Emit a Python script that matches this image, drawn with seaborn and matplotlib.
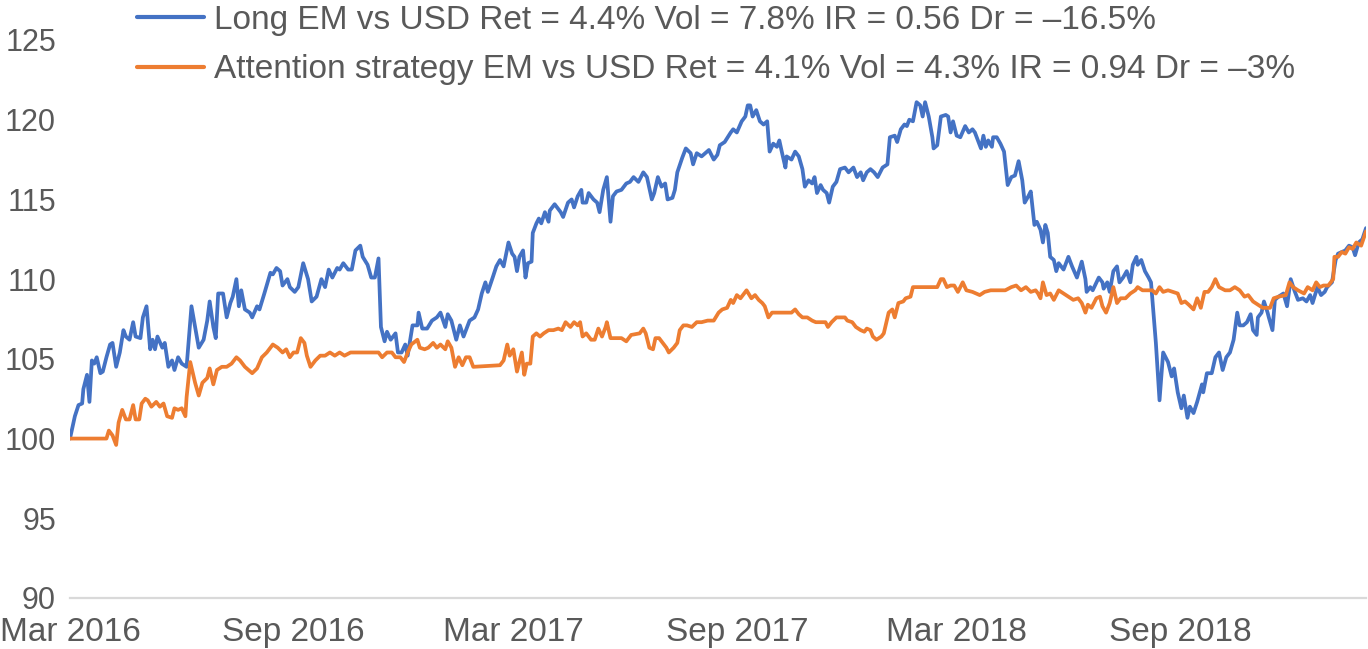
import numpy as np
import pandas as pd
import matplotlib
matplotlib.use("Agg")
import matplotlib.pyplot as plt
import seaborn as sns

# ---------------- data ----------------
start_date = "2016-03-01"

blue_label = "Long EM vs USD Ret = 4.4% Vol = 7.8% IR = 0.56 Dr = \u201316.5%"
orange_label = "Attention strategy EM vs USD Ret = 4.1% Vol = 4.3% IR = 0.94 Dr = \u20133%"

# days after start_date
blue_days = [0,4,7,10,11,14,16,18,20,22,25,27,30,33,35,38,41,44,46,49,52,54,58,60,63,66,68,70,72,76,78,81,84,86,89,92,96,100,103,106,110,113,115,118,120,122,126,129,132,134,137,139,141,144,148,150,154,156,160,165,167,170,173,175,179,181,185,188,192,196,199,203,207,210,213,216,220,222,225,229,232,235,239,241,245,248,251,254,256,259,261,264,268,270,273,276,278,282,286,287,290,294,298,302,305,309,311,314,318,321,324,327,329,333,336,339,342,344,348,351,354,357,361,364,366,368,370,373,375,377,380,381,384,386,388,391,394,395,399,404,406,410,413,415,418,421,422,425,427,431,434,436,439,442,445,447,450,454,458,461,464,468,472,475,479,481,484,487,490,492,496,498,500,504,507,511,513,516,520,523,526,530,533,535,539,544,546,549,553,556,558,560,562,565,568,571,574,576,579,582,584,586,589,590,594,597,600,603,605,608,611,613,615,618,620,623,625,628,631,634,638,641,645,648,651,653,656,659,662,665,669,673,675,679,681,684,687,689,691,694,697,700,702,704,707,710,711,714,717,721,723,725,727,730,733,737,740,743,745,748,750,752,754,756,759,760,763,766,769,772,775,778,781,784,786,789,791,794,796,799,801,803,805,807,810,812,814,818,822,825,829,833,836,837,840,842,847,850,851,854,856,859,862,864,867,870,873,875,878,879,882,885,888,890,894,897,900,904,907,909,912,915,917,920,922,925,928,932,933,936,940,943,946,949,952,955,958,961,963,966,969,972,974,977,978,981,983,986,987,990,992,995,999,1002,1005,1008,1011,1015,1018,1021,1023,1027,1030,1033,1035,1039,1042,1044,1047,1050,1053,1056,1058,1061,1064,1067]
blue_vals = [100.0,101.4,102.1,102.2,103.1,104.0,102.3,104.9,104.7,105.1,104.1,104.2,105.1,105.9,106.0,104.5,105.4,106.8,106.4,106.2,107.3,106.4,106.3,107.6,108.3,105.6,106.2,105.6,106.4,105.7,106.0,104.5,104.9,104.3,105.1,104.7,104.5,108.3,107.0,105.7,106.2,107.4,108.6,107.0,106.3,109.1,109.1,107.6,108.5,108.9,110.0,108.3,109.3,108.1,107.9,107.6,108.3,108.1,109.1,110.4,110.3,110.7,110.5,109.6,110.0,109.5,109.2,109.5,111.0,110.0,108.6,108.9,110.0,109.5,110.6,110.1,110.7,110.6,111.0,110.6,110.6,111.8,112.1,111.4,110.9,110.1,110.1,111.3,107.0,106.1,106.7,106.2,106.6,105.4,105.4,105.9,105.2,107.1,107.1,107.9,106.9,106.9,107.4,107.6,107.9,107.0,107.8,107.4,106.2,107.1,106.4,107.0,107.4,107.6,108.1,109.1,109.8,109.2,110.1,110.8,111.2,110.8,112.3,111.6,111.4,110.5,111.4,111.8,110.1,111.0,111.1,112.9,113.5,113.8,113.5,114.2,113.6,114.3,114.7,114.2,113.9,114.8,115.0,114.5,115.2,115.6,114.8,114.8,115.4,115.0,114.8,114.2,115.6,116.4,113.6,115.2,115.5,115.6,116.0,116.1,116.4,116.1,116.7,116.4,115.0,115.4,116.4,115.8,116.0,115.0,115.1,115.6,116.7,117.6,118.2,117.9,117.2,117.9,117.7,117.9,118.1,117.5,117.8,118.4,118.6,119.2,119.4,119.2,119.9,120.2,120.9,120.9,120.2,120.6,119.9,119.7,119.9,118.0,118.5,118.3,118.7,118.0,117.0,117.7,117.5,118.0,117.7,116.9,115.8,116.2,116.0,116.4,115.4,115.9,115.6,115.4,114.8,115.8,116.1,116.9,117.0,116.7,117.0,116.4,116.7,116.2,116.7,116.9,116.7,116.4,117.0,117.2,118.9,119.0,118.6,119.4,119.7,119.6,120.0,119.9,121.1,120.9,120.2,121.1,120.2,118.9,118.2,118.4,120.2,120.3,120.2,119.2,119.9,119.0,118.9,119.6,119.2,119.4,119.2,118.6,118.2,119.0,118.3,118.7,118.3,118.9,118.9,118.5,118.0,115.9,116.4,116.5,117.4,116.2,114.8,115.2,115.5,113.4,113.6,113.1,112.3,113.4,112.9,111.4,111.2,110.5,111.0,110.6,111.4,110.8,110.1,111.1,110.0,109.2,109.5,109.3,110.1,109.8,109.4,109.8,109.2,110.5,110.8,109.8,110.1,110.5,109.8,110.9,111.4,110.9,111.2,110.5,110.1,109.8,106.0,102.4,105.4,104.8,103.9,104.4,102.9,101.9,102.7,101.3,102.0,101.6,102.3,103.4,102.9,104.1,104.1,105.1,105.4,104.3,105.1,105.4,106.2,107.9,107.1,107.1,107.3,107.8,106.8,106.5,107.6,107.9,108.6,107.9,107.6,106.8,108.7,108.9,109.1,108.3,110.0,109.3,108.7,108.8,108.6,109.0,108.5,109.5,109.0,109.2,109.5,109.8,111.2,111.6,111.7,111.8,112.1,112.0,111.5,112.3,112.5,113.2]

orange_days = [0,30,32,35,38,40,43,46,49,52,54,57,59,62,64,67,71,74,77,80,84,86,89,92,95,96,99,103,106,109,113,115,118,121,125,129,133,137,140,144,147,150,154,158,162,165,167,171,175,178,181,184,187,190,193,195,198,202,206,210,214,218,222,226,231,235,254,257,261,265,268,272,275,278,281,286,288,292,295,299,302,305,309,311,314,317,320,323,326,329,332,354,357,360,362,365,368,370,372,374,376,379,381,384,387,390,394,398,402,405,408,412,415,418,420,422,425,429,432,435,438,441,442,445,454,458,462,469,472,474,477,480,482,485,488,491,493,497,500,502,505,508,512,516,520,525,530,534,537,541,544,546,549,552,557,561,564,567,570,572,575,578,581,584,587,590,594,597,600,603,607,611,614,618,622,624,627,631,634,638,640,644,647,651,654,656,659,661,664,668,670,674,677,679,682,686,688,692,694,697,714,717,719,722,725,728,731,735,738,743,746,749,753,758,766,770,775,779,783,787,791,795,797,799,801,804,807,810,814,818,822,826,830,833,836,838,841,845,848,850,853,856,859,862,865,869,873,877,879,883,891,894,897,900,904,908,912,915,918,921,925,928,931,934,937,940,943,946,951,955,959,963,967,970,974,978,982,988,991,995,1001,1004,1007,1011,1016,1019,1023,1026,1029,1032,1036,1040,1041,1044,1047,1050,1053,1056,1059,1063,1067]
orange_vals = [100.0,100.0,100.5,100.2,99.6,101.0,101.8,101.2,101.2,102.1,101.2,101.2,102.2,102.5,102.4,102.0,102.3,102.0,102.2,101.4,101.3,101.9,101.8,101.9,101.4,102.6,104.8,103.5,102.7,103.5,103.8,104.4,103.4,104.3,104.5,104.5,104.7,105.1,104.9,104.5,104.3,104.1,104.4,105.1,105.4,105.7,105.9,105.7,105.4,105.6,105.1,105.4,105.4,106.3,106.0,105.2,104.5,104.9,105.2,105.2,105.4,105.2,105.4,105.2,105.4,105.4,105.4,105.1,105.4,105.4,105.1,105.1,104.8,105.4,105.9,106.2,105.7,105.6,105.7,106.0,105.7,105.9,105.6,106.1,105.7,104.5,105.1,104.6,105.1,105.1,104.5,104.6,104.9,105.9,105.2,105.6,104.2,104.8,105.4,104.0,104.7,104.7,106.4,106.6,106.4,106.6,106.8,106.8,106.9,106.8,107.3,107.0,107.3,107.1,107.3,106.4,106.6,106.2,106.2,106.9,106.4,107.0,107.3,106.3,106.3,106.1,106.5,106.6,106.9,106.6,105.7,105.6,106.3,106.3,106.0,105.7,105.4,105.7,106.0,106.8,107.1,107.1,107.0,107.3,107.3,107.4,107.4,107.9,108.1,108.2,108.7,108.5,109.0,108.8,109.3,108.8,109.0,108.7,108.5,108.3,107.6,107.9,107.9,107.9,107.9,107.9,107.9,108.1,107.8,107.6,107.6,107.4,107.3,107.3,107.3,107.0,107.3,107.6,107.6,107.6,107.4,107.3,107.0,106.8,106.7,106.9,106.8,106.4,106.2,106.4,106.6,107.9,108.1,107.6,108.5,108.6,108.8,108.9,109.5,109.5,109.5,110.0,110.0,109.5,109.6,109.6,109.2,109.8,109.3,109.2,109.1,109.0,109.2,109.3,109.3,109.3,109.5,109.6,109.3,109.5,109.2,109.3,109.1,108.8,109.8,109.0,109.1,108.7,109.3,109.1,108.9,108.7,108.8,108.5,107.9,108.4,108.2,108.8,108.9,108.3,107.9,108.5,109.5,108.5,108.8,108.8,109.1,109.3,109.5,109.3,109.3,109.1,109.5,109.2,109.3,109.2,109.1,108.5,108.6,108.4,108.1,108.8,108.2,109.2,109.2,109.5,110.0,109.5,109.3,109.3,109.5,109.3,108.9,109.0,108.6,108.4,108.2,108.2,108.8,108.9,109.0,109.8,109.5,109.3,109.1,109.5,109.3,109.8,109.5,109.6,109.6,110.0,111.4,111.4,111.7,111.6,112.0,111.9,112.3,112.1,113.0]

y_ticks = [90, 95, 100, 105, 110, 115, 120, 125]
x_tick_dates = ["2016-03-01", "2016-09-01", "2017-03-01", "2017-09-01", "2018-03-01", "2018-09-01"]
x_tick_labels = ["Mar 2016", "Sep 2016", "Mar 2017", "Sep 2017", "Mar 2018", "Sep 2018"]

colors = {blue_label: "#4472C4", orange_label: "#ED7D31"}

# ---------------- build long-form table ----------------
t0 = pd.Timestamp(start_date)
df = pd.concat([
    pd.DataFrame({"date": t0 + pd.to_timedelta(blue_days, unit="D"),
                  "value": blue_vals, "series": blue_label}),
    pd.DataFrame({"date": t0 + pd.to_timedelta(orange_days, unit="D"),
                  "value": orange_vals, "series": orange_label}),
], ignore_index=True)

# ---------------- style ----------------
sns.set_style("white")
plt.rcParams["font.family"] = ["Liberation Sans", "DejaVu Sans"]
text_color = "#595959"

W, H = 1368, 649
fig = plt.figure(figsize=(W / 100, H / 100), dpi=100)
ax = fig.add_axes([70 / W, 1 - 598 / H, (1366 - 70) / W, (598 - 40) / H])

sns.lineplot(data=df, x="date", y="value", hue="series",
             hue_order=[blue_label, orange_label], palette=colors,
             estimator=None, linewidth=2.7, ax=ax)

ax.set_ylim(90, 125)
ax.set_xlim(t0, df["date"].max())
ax.set_yticks(y_ticks)
ax.set_yticklabels([str(v) for v in y_ticks])
ax.set_xticks(pd.to_datetime(x_tick_dates))
ax.set_xticklabels(x_tick_labels)
ax.set_xlabel("")
ax.set_ylabel("")

for s in ["top", "right", "left"]:
    ax.spines[s].set_visible(False)
ax.spines["bottom"].set_color("#D9D9D9")
ax.spines["bottom"].set_linewidth(1.6)

ax.tick_params(axis="y", length=0, pad=10, labelsize=22, labelcolor=text_color)
ax.tick_params(axis="x", length=7, width=1.3, color="#D9D9D9", pad=6.5,
               labelsize=24, labelcolor=text_color, direction="out")
ax.grid(False)

handles, labels = ax.get_legend_handles_labels()
for h in handles:
    h.set_linewidth(3.0)
ax.legend(handles, labels, loc="upper left",
          bbox_to_anchor=(137 / W, 1 - 5 / H), bbox_transform=fig.transFigure,
          frameon=False, fontsize=24, labelcolor=text_color,
          handlelength=2.0, handletextpad=0.3, labelspacing=0.55,
          borderpad=0, borderaxespad=0)

fig.savefig("out.png", dpi=100)
